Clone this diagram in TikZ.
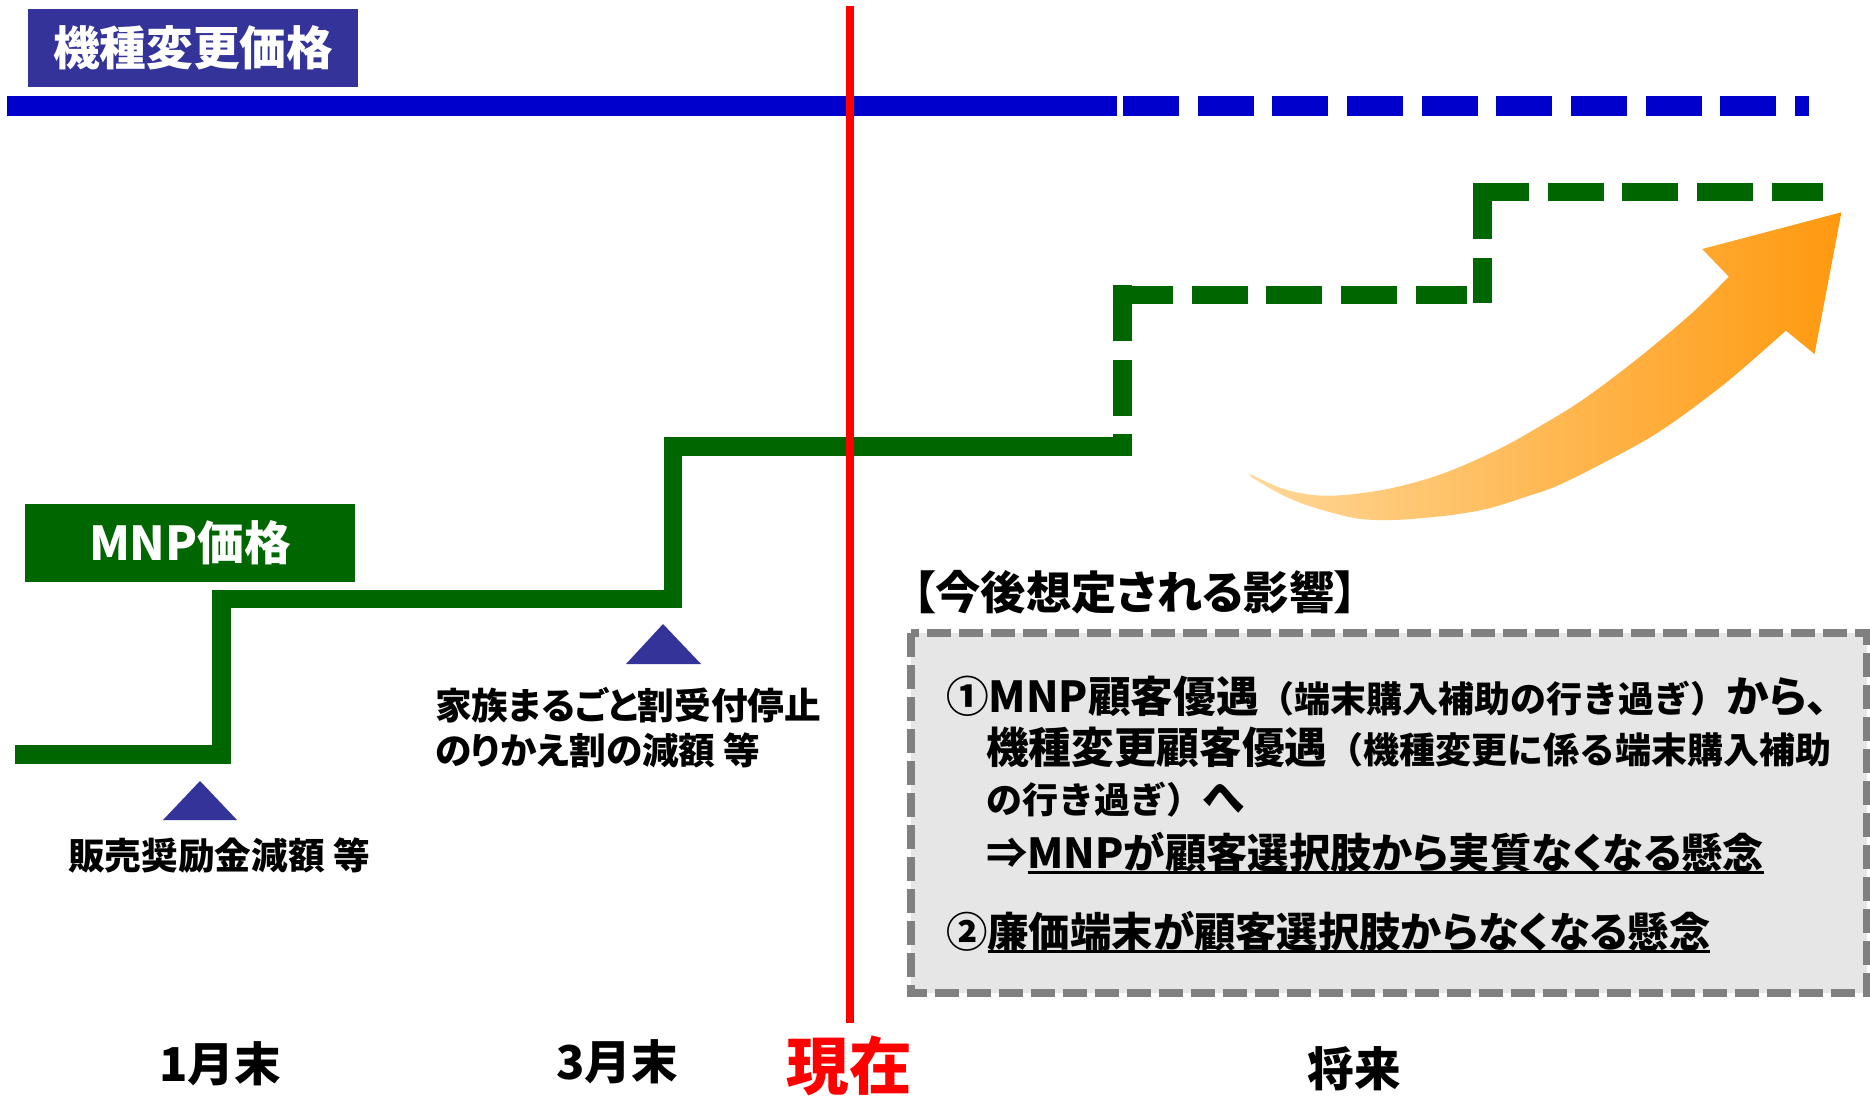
\documentclass[tikz,border=0pt]{standalone}
\usepackage{fontspec}
\setmainfont{Noto Sans CJK JP}[RawFeature=+palt]
\newfontfamily\jpn{Noto Sans CJK JP}
\definecolor{titleblue}{HTML}{333399}
\definecolor{lineblue}{HTML}{0000CC}
\definecolor{mnpgreen}{HTML}{006600}
\definecolor{boxgray}{HTML}{E6E6E6}
\definecolor{bordergray}{HTML}{808080}
\definecolor{arrowlight}{HTML}{FFD898}
\definecolor{arrowdark}{HTML}{FF990F}
\newcommand\jbig{\fontsize{32}{38}\selectfont}
\newcommand\jmid{\fontsize{31}{37}\selectfont}
\newcommand\jsml{\fontsize{27}{32}\selectfont}
\newcommand\ulin[1]{\setbox0\hbox{#1}\rlap{\rule[-4.5pt]{\wd0}{2.2pt}}\box0}
\begin{document}
\begin{tikzpicture}[x=0.75pt,y=-0.75pt,
  lbl/.style={inner sep=0pt, font={\bfseries\fontsize{27.5}{33}\selectfont}},
  monthlbl/.style={inner sep=0pt, font={\bfseries\fontsize{35}{42}\selectfont}},
  tagbox/.style={inner sep=0pt, minimum width=247.5pt, minimum height=58.5pt, text=white, font={\bfseries\fontsize{35}{42}\selectfont}},
  stepline/.style={draw=mnpgreen, line width=13.9pt, line join=miter},
  greendash/.style={draw=mnpgreen, line width=13.9pt, dash pattern=on 42pt off 14pt},
  bluesolid/.style={draw=lineblue, line width=14.25pt},
  bluedash/.style={bluesolid, dash pattern=on 42pt off 14pt},
  marker/.style={fill=titleblue},
  graybox/.style={draw=bordergray, fill=boxgray, line width=6pt, dash pattern=on 18pt off 6pt},
  boxline/.style={anchor=base west, inner sep=0pt, font={\bfseries\jbig}},
  boxline2/.style={anchor=base west, inner sep=0pt, font={\bfseries\jmid}},
]
\useasboundingbox (0,0) rectangle (1870,1099);

% change price line
\draw[bluesolid] (7,106) -- (1117,106);
\draw[bluedash] (1123,106) -- (1809,106);
\node[tagbox, fill=titleblue] (title) at (193,48) {機種変更価格};

% MNP price line
\draw[stepline] (15,754.5) -- (221.5,754.5) -- (221.5,599) -- (673,599) -- (673,446.5) -- (1128,446.5);
\draw[greendash] (1122.5,285) -- (1122.5,456);
\draw[greendash] (1117,295) -- (1467,295);
\draw[greendash] (1482.5,183) -- (1482.5,303);
\draw[greendash] (1473,192) -- (1823,192);
\node[tagbox, fill=mnpgreen] (mnp) at (190,543) {MNP価格};

% markers
\fill[marker] (200,781) -- (237,820) -- (163,820) -- cycle;
\fill[marker] (663,624) -- (701,664) -- (626,664) -- cycle;
\node[lbl] (l1) at (219,856) {販売奨励金減額 等};
\node[lbl, anchor=west] (l2) at (435,705.5) {家族まるごと割受付停止};
\node[lbl, anchor=west] (l3) at (435,750) {のりかえ割の減額 等};

% orange arrow
\shade[left color=arrowlight, right color=arrowdark]
  plot[smooth, tension=0.6] coordinates {(1248.4,473.3) (1279,487.3) (1305.5,494) (1332,495.7) (1364.7,492.7) (1395.3,487.3) (1432,477.3) (1466.7,464) (1505.5,445.7) (1542,425) (1579,402.3) (1617.8,374) (1656.5,343.3) (1695.3,310) (1728.8,276.7)}
  -- (1702.2,249) -- (1841.4,212.3) -- (1814.5,354) -- (1785.9,330.7)
  -- plot[smooth, tension=0.6] coordinates {(1785.9,330.7) (1735.3,375) (1701.4,401.7) (1666.7,426.7) (1632,447.7) (1562.7,483.3) (1526,496.7) (1489,508.3) (1456.5,514.3) (1426,517.7) (1393.3,520) (1360.6,519) (1332,512.7) (1303.5,504) (1279,493.3) (1252.4,477.7)}
  -- cycle;

% impact box
\node[inner sep=0pt, font={\bfseries\fontsize{34}{40}\selectfont}] (imphead) at (1135,592) {【今後想定される影響】};
\draw[graybox] (910.5,633) rectangle (1866.5,993);
\node[boxline] (b1) at (946,712) {①MNP顧客優遇{\jsml\jpn （端末購入補助の行き過ぎ）}から、};
\node[boxline] (b2) at (986,763) {機種変更顧客優遇{\jsml\jpn （機種変更に係る端末購入補助}};
\node[boxline] (b3) at (986,813) {{\jsml\jpn の行き過ぎ）}へ};
\node[boxline2] (b4) at (986,868) {⇒\ulin{MNPが顧客選択肢から実質なくなる懸念}};
\node[boxline2] (b5) at (946,947) {②\ulin{廉価端末が顧客選択肢からなくなる懸念}};

% now line
\draw[red, line width=6pt] (850,6) -- (850,1023);

% time labels
\node[monthlbl] (m1) at (220,1064) {1月末};
\node[monthlbl] (m3) at (617,1062) {3月末};
\node[inner sep=0pt, text=red, font={\bfseries\fontsize{47}{56}\selectfont}] (now) at (849,1066) {現在};
\node[monthlbl] (fut) at (1354,1069) {将来};
\end{tikzpicture}
\end{document}
